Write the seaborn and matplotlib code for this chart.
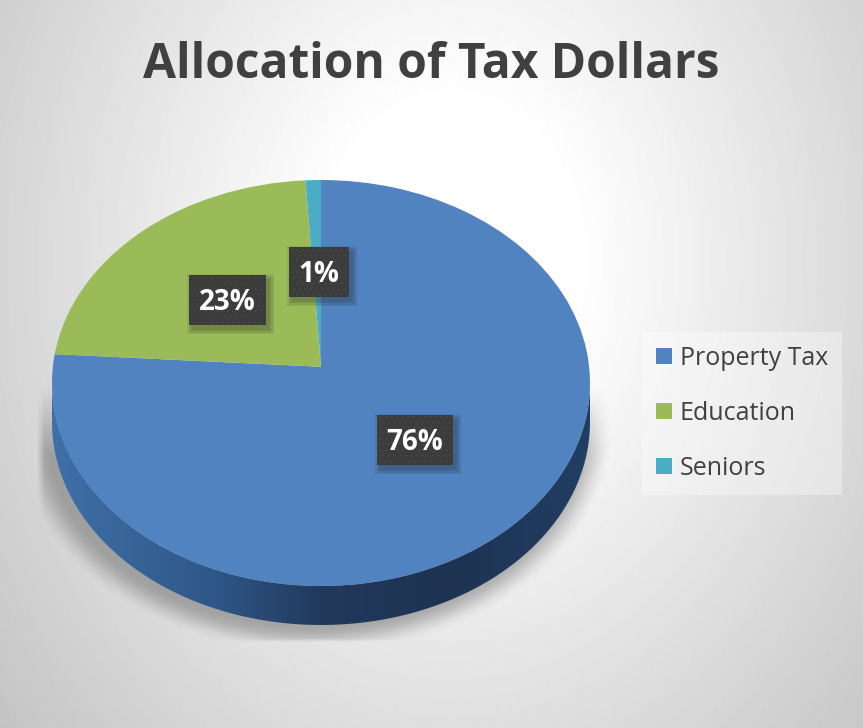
import numpy as np
import matplotlib
matplotlib.use("Agg")
import matplotlib.pyplot as plt
from matplotlib.colors import LinearSegmentedColormap
from matplotlib.patches import PathPatch, Rectangle
from matplotlib.path import Path
from matplotlib.transforms import Transform
import seaborn as sns

title = "Allocation of Tax Dollars"
categories = ["Property Tax", "Education", "Seniors"]
shares = [76, 23, 1]
colors = ["#5083bf", "#9bbb59", "#4bacc6"]

W, H = 863, 728
CX, CY, RX, RY, K, DEPTH = 321, 383, 269, 203, 0.08, 39

sns.set_theme(style="white")
plt.rcParams["font.family"] = ["Open Sans", "DejaVu Sans"]
plt.rcParams["hatch.linewidth"] = 0.5
palette = sns.color_palette(colors)


class Tilt(Transform):
    """Projects the unit pie disc onto the tilted ellipse in pixel space."""
    input_dims = output_dims = 2
    is_affine = False
    has_inverse = False

    def transform_non_affine(self, xy):
        xy = np.asarray(xy, float)
        x, y = xy[:, 0], xy[:, 1]
        d = 1 + K * y
        return np.column_stack((CX + RX * x * np.sqrt(1 - K * K) / d,
                                CY - RY * (y + K) / d))


fig = plt.figure(figsize=(W / 100, H / 100), dpi=100)
ax = fig.add_axes([0, 0, 1, 1])

wedges, _ = ax.pie(shares, colors=palette, startangle=90, counterclock=False,
                   wedgeprops=dict(linewidth=0))
ax.set_aspect("auto")
tilt = Tilt() + ax.transData
for w in wedges:
    w.set_transform(tilt)
    w.set_zorder(5)

# background
yy, xx = np.mgrid[0:H, 0:W]
r = np.hypot((xx - 450) / 640, (yy - 260) / 800)
bg = 1.0 - 0.26 * np.clip((r - 0.2) / 0.8, 0, 1)
ax.imshow(bg, cmap="gray", vmin=0, vmax=1, extent=(0, W, H, 0), aspect="auto", zorder=0)

# soft shadow
d = np.hypot((xx - 312) / 269, (yy - 426) / 203)
a = np.clip((1.12 - d) / 0.14, 0, 1)
a = a * a * (3 - 2 * a)
a *= np.clip((yy - 385) / 70, 0, 1) * np.clip((642 - yy) / 4, 0, 1) * np.clip((xx - 36) / 8, 0, 1)
rgba = np.zeros((H, W, 4))
rgba[..., :3] = 0.4
rgba[..., 3] = a * 0.5
ax.imshow(rgba, extent=(0, W, H, 0), aspect="auto", zorder=1)

# side wall of the disc
th = np.linspace(np.pi, 2 * np.pi, 200)
lower = np.column_stack((CX + RX * np.cos(th), CY + DEPTH - RY * np.sin(th)))
upper = np.column_stack((CX + RX * np.cos(th[::-1]), CY - RY * np.sin(th[::-1])))
wall = Path(np.vstack((lower, upper, lower[:1])))
cmap = LinearSegmentedColormap.from_list(
    "wall", [(0, "#3f70a8"), (0.3, "#2f5788"), (0.5, "#22395c"),
             (0.75, "#1e3352"), (1, "#213e64")])
grad = ax.imshow(np.linspace(0, 1, 256)[None, :], cmap=cmap,
                 extent=(CX - RX, CX + RX, CY + RY + DEPTH, CY - 40), aspect="auto", zorder=2)
clip = PathPatch(wall, transform=ax.transData, fc="none", ec="none")
ax.add_patch(clip)
grad.set_clip_path(clip)

# data labels
label_boxes = [(377, 415, 76, 50), (189, 275, 77, 50), (289, 247, 60, 50)]
for v, (x, y, w, h) in zip(shares, label_boxes):
    for grow in (5, 3.5, 2, 0.5):
        ax.add_patch(Rectangle((x + 3 - grow, y + 4 - grow), w + 2 * grow, h + 2 * grow,
                               fc="#202020", ec="none", alpha=0.09, zorder=6))
    ax.add_patch(Rectangle((x, y), w, h, fc="#3c3c3c", ec="#4a4a4a", lw=0,
                           hatch="...", zorder=6.5))
    ax.text(x + w / 2, y + h / 2 + 3, f"{v}%", color="white", fontsize=20, fontweight="bold",
            ha="center", va="center", zorder=7)

ax.text(431, 65, title, color="#404040", fontsize=34.5, fontweight="bold",
        ha="center", va="center", zorder=7)

leg = ax.legend(wedges, categories, loc="center left",
                bbox_to_anchor=(642, 413.5), bbox_transform=ax.transData,
                frameon=True, fancybox=False, facecolor="white", framealpha=0.35,
                edgecolor="none", fontsize=18, labelcolor="#404040",
                handlelength=0.64, handleheight=0.64, handletextpad=0.32,
                labelspacing=1.2, borderpad=0.55, borderaxespad=0)
leg.set_zorder(6)

ax.set_xlim(0, W)
ax.set_ylim(H, 0)
ax.axis("off")
fig.savefig("out.png", dpi=100)
